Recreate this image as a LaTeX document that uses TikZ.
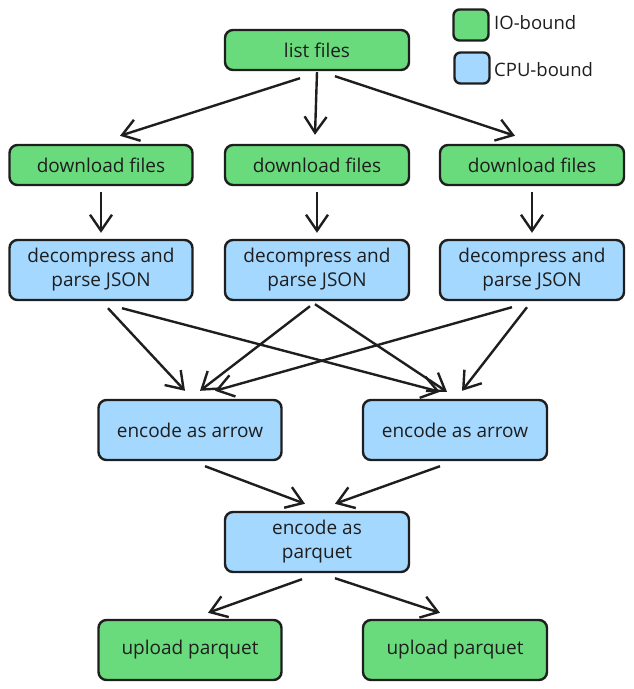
\documentclass[tikz,border=0pt]{standalone}
\usepackage{fontspec}
\setmainfont{Open Sans}
\usetikzlibrary{arrows.meta}
\definecolor{iogreen}{HTML}{69DB7C}
\definecolor{cpublue}{HTML}{A5D8FF}
\definecolor{ink}{HTML}{1E1E1E}
\tikzset{
  box/.style={draw=ink, line width=2.4pt, rounded corners=8pt, minimum width=183pt, inner sep=0pt, align=center, font=\fontsize{19}{24}\selectfont, text=ink},
  short/.style={box, minimum height=40pt},
  tall/.style={box, minimum height=60pt},
  io/.style={fill=iogreen},
  cpu/.style={fill=cpublue},
  legbox/.style={draw=ink, line width=2.4pt, rounded corners=6pt, minimum width=35pt, minimum height=31pt, inner sep=0pt},
  legtext/.style={anchor=west, inner sep=0pt, font=\fontsize{18.5}{22}\selectfont, text=ink},
  conn/.style={draw=ink, line width=2.4pt, -{Straight Barb[length=16pt,width=22pt,line width=2.4pt]}}
}
\begin{document}
\begin{tikzpicture}[x=1pt,y=-1pt]
\useasboundingbox (0,0) rectangle (634,689);
% legend
\node[legbox, fill=iogreen] (lg) at (471,25) {};
\node[legtext] (lgt) at (494,23) {IO-bound};
\node[legbox, fill=cpublue] (lb) at (472,68) {};
\node[legtext] (lbt) at (494,70) {CPU-bound};
% nodes
\node[short, io, minimum width=184pt] (l) at (317,50) {list files};
\node[short, io] (d1) at (101,165) {download files};
\node[short, io, minimum width=184pt] (d2) at (317,165) {download files};
\node[short, io, minimum width=184pt] (d3) at (532,165) {download files};
\node[tall, cpu] (p1) at (101,270) {decompress and\\parse JSON};
\node[tall, cpu, minimum width=184pt] (p2) at (317,270) {decompress and\\parse JSON};
\node[tall, cpu, minimum width=184pt] (p3) at (532,270) {decompress and\\parse JSON};
\node[tall, cpu] (e1) at (190,430) {encode as arrow};
\node[tall, cpu, minimum width=184pt] (e2) at (455,430) {encode as arrow};
\node[tall, cpu, minimum width=184pt] (q) at (317,542) {encode as\\parquet};
\node[tall, io] (u1) at (190,650) {upload parquet};
\node[tall, io, minimum width=184pt] (u2) at (455,650) {upload parquet};
% connectors
\draw[conn] ([xshift=-17pt,yshift=-7pt]l.south) -- ([xshift=19pt,yshift=8pt]d1.north);
\draw[conn] ([yshift=-1pt]l.south) -- ([xshift=-2pt,yshift=9pt]d2.north);
\draw[conn] ([xshift=18pt,yshift=-5pt]l.south) -- ([xshift=-17pt,yshift=8pt]d3.north);
\draw[conn] ([yshift=-6pt]d1.south) -- ([yshift=6pt]p1.north);
\draw[conn] ([yshift=-6pt]d2.south) -- ([yshift=6pt]p2.north);
\draw[conn] ([yshift=-6pt]d3.south) -- ([yshift=6pt]p3.north);
\draw[conn] ([xshift=7pt,yshift=-7pt]p1.south) -- ([xshift=-5pt,yshift=8pt]e1.north);
\draw[conn] ([xshift=21pt,yshift=-7pt]p1.south) -- ([xshift=-15pt,yshift=7pt]e2.north);
\draw[conn] ([xshift=-7pt,yshift=-5pt]p2.south) -- ([xshift=10pt,yshift=8pt]e1.north);
\draw[conn] ([xshift=-2pt,yshift=-3pt]p2.south) -- ([xshift=-8pt,yshift=7pt]e2.north);
\draw[conn] ([xshift=-20pt,yshift=-6pt]p3.south) -- ([xshift=25pt,yshift=8pt]e1.north);
\draw[conn] ([xshift=-5pt,yshift=-6pt]p3.south) -- ([xshift=7pt,yshift=8pt]e2.north);
\draw[conn] ([xshift=15pt,yshift=-5pt]e1.south) -- ([xshift=-12pt,yshift=7pt]q.north);
\draw[conn] ([xshift=-15pt,yshift=-5pt]e2.south) -- ([xshift=18pt,yshift=7pt]q.north);
\draw[conn] ([xshift=-15pt,yshift=-6pt]q.south) -- ([xshift=18pt,yshift=6pt]u1.north);
\draw[conn] ([xshift=18pt,yshift=-5pt]q.south) -- ([xshift=-15pt,yshift=6pt]u2.north);
\end{tikzpicture}
\end{document}
